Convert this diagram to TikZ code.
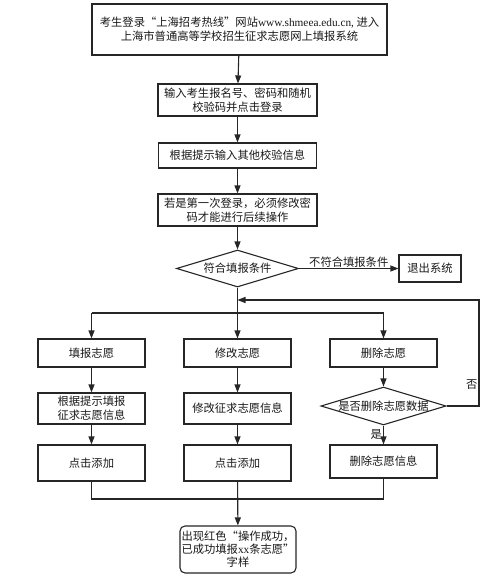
\documentclass[tikz,border=0pt]{standalone}
\usepackage{fontspec}
\setmainfont{Noto Sans CJK SC}
\newfontfamily\lat{Liberation Serif}
\usetikzlibrary{shapes.geometric,arrows.meta}
\begin{document}
\begin{tikzpicture}[x=1pt,y=-1pt,
  every node/.style={font=\fontsize{11.3pt}{14pt}\selectfont, text=black!90},
  box/.style={draw=black!85, line width=1.1pt, align=center, inner sep=1pt},
  dia/.style={draw=black!85, line width=1.1pt, diamond, inner sep=0pt, aspect=3.3},
  lbl/.style={inner sep=1pt},
  arr/.style={draw=black!85, line width=1.1pt, -{Triangle[length=8pt,width=6pt]}},
  ln/.style={draw=black!85, line width=1.1pt}]
\useasboundingbox (0,0) rectangle (490,582);
\fill[white] (0,0) rectangle (490,582);

\node[box, minimum width=295pt, minimum height=51pt] (top) at (239.5,29.5)
  {考生登录“上海招考热线”网站{\lat www.shmeea.edu.cn,} 进入\\上海市普通高等学校招生征求志愿网上填报系统};
\node[box, minimum width=159pt, minimum height=32pt] (b2) at (237.5,100)
  {输入考生报名号、密码和随机\\校验码并点击登录};
\node[box, minimum width=158pt, minimum height=25pt] (b3) at (237.5,155.5)
  {根据提示输入其他校验信息};
\node[box, minimum width=159pt, minimum height=32pt] (b4) at (237.5,210)
  {若是第一次登录，必须修改密\\码才能进行后续操作};
\node[dia, minimum width=122pt, minimum height=37pt] (d1) at (237.5,268.5) {符合填报条件};
\node[box, minimum width=62pt, minimum height=27pt] (exit) at (430,268.5) {退出系统};

\node[box, minimum width=107pt, minimum height=28pt] (L1) at (91.5,353) {填报志愿};
\node[box, minimum width=107pt, minimum height=28pt] (M1) at (237.5,353) {修改志愿};
\node[box, minimum width=107pt, minimum height=28pt] (R1) at (383.5,353) {删除志愿};

\node[box, minimum width=107pt, minimum height=31pt] (L2) at (91.5,408.5) {根据提示填报\\征求志愿信息};
\node[box, minimum width=107pt, minimum height=31pt] (M2) at (237.5,408.5) {修改征求志愿信息};
\node[dia, minimum width=122pt, minimum height=36pt] (R2) at (383.5,406) {是否删除志愿数据};

\node[box, minimum width=107pt, minimum height=36pt] (L3) at (91.5,463) {点击添加};
\node[box, minimum width=107pt, minimum height=36pt] (M3) at (237.5,463) {点击添加};
\node[box, minimum width=107pt, minimum height=33pt] (R3) at (383.5,461.5) {删除志愿信息};

\node[box, rounded corners=5pt, minimum width=116pt, minimum height=47pt, font=\fontsize{11.3pt}{13pt}\selectfont] (fin) at (238,549.5)
  {出现红色“操作成功，\\已成功填报{\lat xx}条志愿”\\字样};

\coordinate (j) at (237.5,313);
\coordinate (jl) at (91.5,313);
\coordinate (jr) at (383.5,313);
\coordinate (ret) at (237.5,300);
\coordinate (rc1) at (479,406);
\coordinate (rc2) at (479,300);
\coordinate (ml) at (91.5,499);
\coordinate (mr) at (383.5,499);
\coordinate (mm) at (237.5,499);

\draw[arr] (top) -- (b2);
\draw[arr] (b2) -- (b3);
\draw[arr] (b3) -- (b4);
\draw[arr] (b4) -- (d1);
\draw[arr] (d1) -- node[lbl, above] {不符合填报条件} (exit);
\draw[ln] (d1.south) -- (j);
\draw[ln] (jl) -- (jr);
\draw[arr] (jl) -- (L1);
\draw[arr] (j) -- (M1);
\draw[arr] (jr) -- (R1);
\draw[arr] (L1) -- (L2);
\draw[arr] (M1) -- (M2);
\draw[arr] (R1) -- (R2);
\draw[arr] (L2) -- (L3);
\draw[arr] (M2) -- (M3);
\draw[arr] (R2) -- node[lbl, left, pos=0.45] {是} (R3);
\draw[arr] (R2.east) -- (rc1) -- node[lbl, left, pos=0.2] {否} (rc2) -- (ret);
\draw[ln] (L3.south) -- (ml) -- (mr) -- (R3.south);
\draw[arr] (M3) -- (fin);
\end{tikzpicture}
\end{document}
